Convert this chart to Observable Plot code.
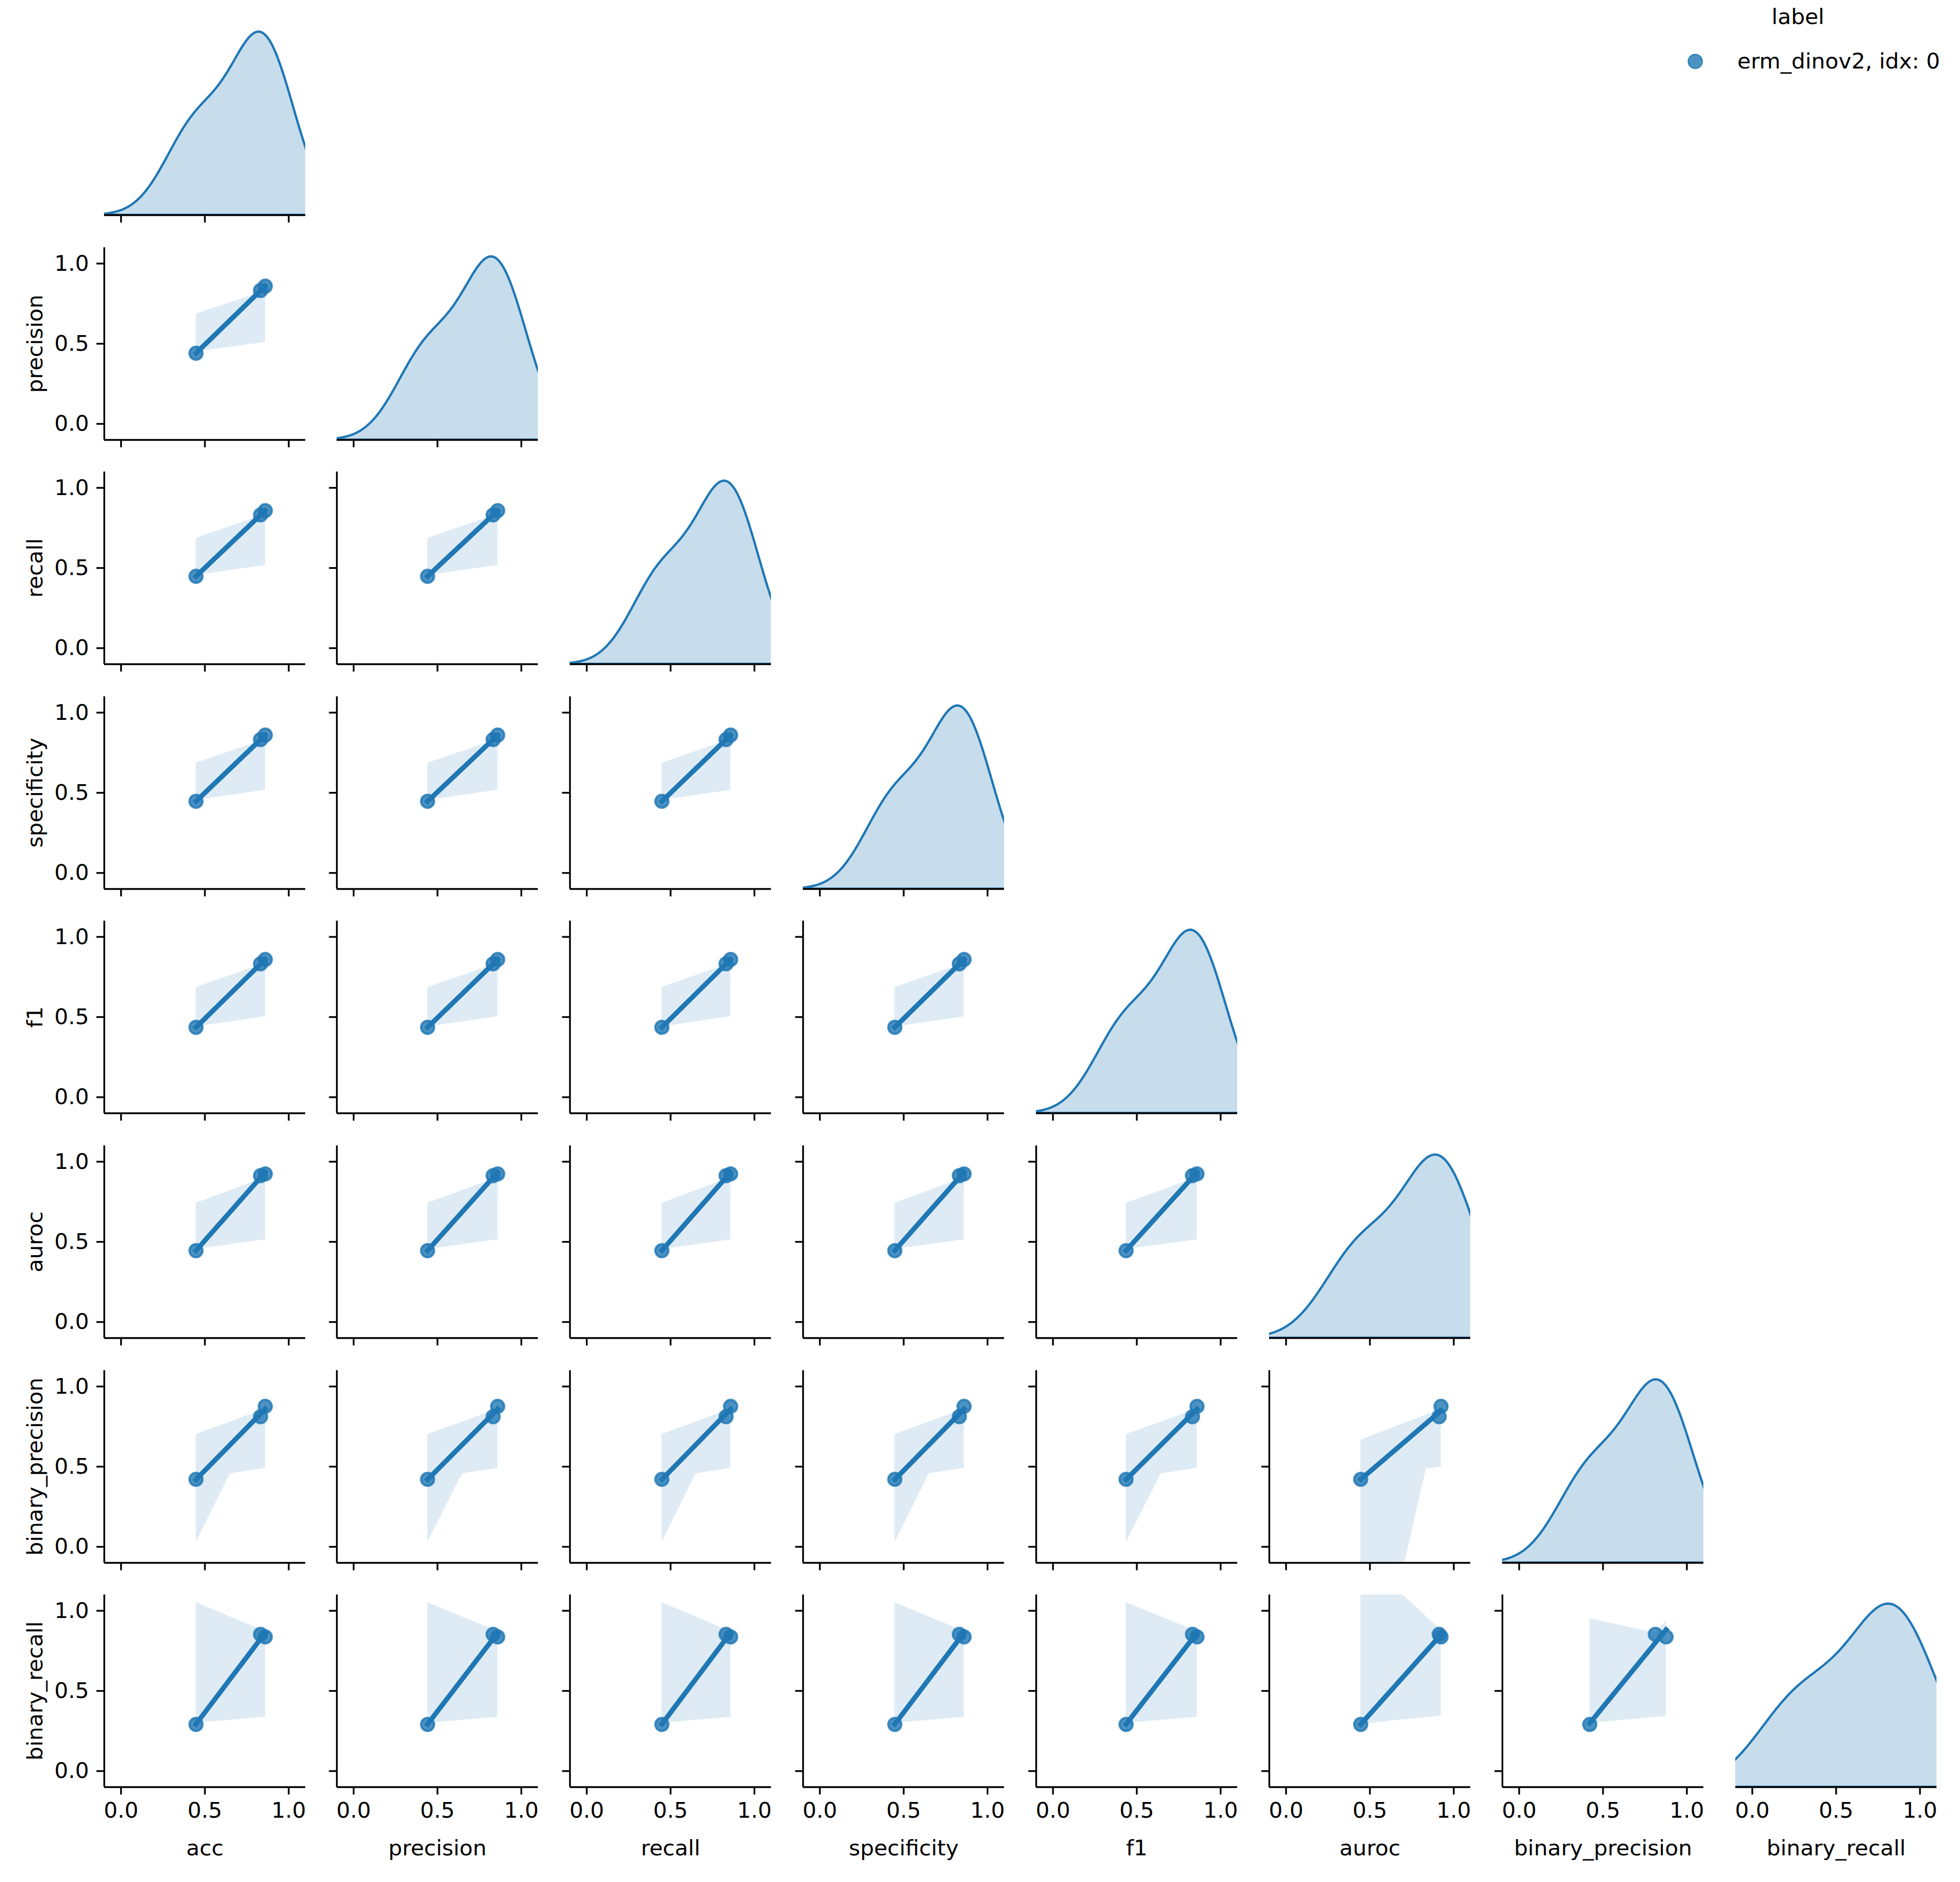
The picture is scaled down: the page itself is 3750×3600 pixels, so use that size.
<!DOCTYPE html>
<html>
<head>
<meta charset="utf-8">
<script src="https://cdn.jsdelivr.net/npm/d3@7"></script>
<script src="https://cdn.jsdelivr.net/npm/@observablehq/plot@0.6"></script>
<style>
  html, body { margin: 0; padding: 0; background: #fff; }
  #root { position: relative; width: 3750px; height: 3600px; background: #fff; font-family: "DejaVu Sans", sans-serif; color: #000; }
  .panel { position: absolute; }
  .panel svg { overflow: visible; }
  .legend-title, .legend-text { position: absolute; font-size: 41.7px; line-height: 1; white-space: nowrap; }
  .legend-marker { position: absolute; width: 25px; height: 25px; border-radius: 50%; box-sizing: content-box; }
</style>
</head>
<body>
<div id="root"></div>
<script>
// ---------------- data ----------------
const variables = ["acc", "precision", "recall", "specificity", "f1", "auroc", "binary_precision", "binary_recall"];
const acc              = [0.447, 0.832, 0.860];
const precision        = [0.441, 0.832, 0.859];
const recall           = [0.448, 0.831, 0.858];
const specificity      = [0.447, 0.832, 0.860];
const f1               = [0.436, 0.832, 0.859];
const auroc            = [0.445, 0.913, 0.924];
const binary_precision = [0.421, 0.812, 0.876];
const binary_recall    = [0.291, 0.853, 0.837];
const tickValues = [0, 0.5, 1.0];
const legendTitle = "label";
const legendLabels = ["erm_dinov2, idx: 0"];

// bootstrap CI band outlines [x, lower, upper]; x in acc units (re-mapped onto each column's range)
const bandPrecision        = [[0.447, 0.450, 0.686], [0.860, 0.509, 0.829]];
const bandRecall           = [[0.447, 0.454, 0.686], [0.860, 0.517, 0.836]];
const bandSpecificity      = [[0.447, 0.454, 0.686], [0.860, 0.517, 0.834]];
const bandF1               = [[0.447, 0.440, 0.686], [0.860, 0.503, 0.836]];
const bandAuroc            = [[0.447, 0.454, 0.742], [0.860, 0.514, 0.902]];
const bandBinaryPrecision  = [[0.447, 0.029, 0.702], [0.651, 0.457, 0.780], [0.860, 0.490, 0.860]];
const bandBinaryRecall     = [[0.447, 0.300, 1.052], [0.860, 0.337, 0.872]];
// special panels, x in the column variable's own units
const bandAurocBinaryPrecision        = [[0.445, -1.30, 0.667], [0.835, 0.487, 0.823], [0.924, 0.498, 0.862]];
const bandAurocBinaryRecall           = [[0.445, 0.294, 1.340], [0.924, 0.344, 0.880]];
const bandBinaryPrecisionBinaryRecall = [[0.421, 0.300, 0.952], [0.813, 0.336, 0.862], [0.876, 0.341, 0.939]];

// ---------------- helpers ----------------
const columns = [acc, precision, recall, specificity, f1, auroc, binary_precision, binary_recall];
const rowBands = [null, bandPrecision, bandRecall, bandSpecificity, bandF1, bandAuroc, bandBinaryPrecision, bandBinaryRecall];
const COLOR = "#1f77b4";
const FS = 41.7;
const TICK = 14.6, PAD = 14.6, SPINE = 3.33;
const W = 385, H = 368;
const LEFT0 = 198.5, PITCHX = 445.9, TOP0 = 43, PITCHY = 429.6;
const DOMAIN = [-0.1, 1.1];
const fmt = d3.format(".1f");
const blank = () => "";

function bandFor(r, c) {
  const rn = variables[r], cn = variables[c];
  let b;
  if (cn === "auroc" && rn === "binary_precision") b = bandAurocBinaryPrecision;
  else if (cn === "auroc" && rn === "binary_recall") b = bandAurocBinaryRecall;
  else if (cn === "binary_precision" && rn === "binary_recall") b = bandBinaryPrecisionBinaryRecall;
  else {
    const a0 = d3.min(acc), a1 = d3.max(acc);
    const m0 = d3.min(columns[c]), m1 = d3.max(columns[c]);
    b = rowBands[r].map(([x, lo, hi]) => [m0 + (x - a0) / (a1 - a0) * (m1 - m0), lo, hi]);
  }
  return b.map(([x, lo, hi]) => ({x, lo, hi}));
}

function kde(values) {
  const n = values.length;
  const bw = d3.deviation(values) * Math.pow(n, -1 / 5);
  const lo = d3.min(values) - 3 * bw, hi = d3.max(values) + 3 * bw;
  const g = d3.range(200).map(i => lo + (hi - lo) * i / 199);
  const k = u => Math.exp(-0.5 * u * u) / Math.sqrt(2 * Math.PI);
  return g.map(x => ({x, density: d3.mean(values, v => k((x - v) / bw)) / bw}));
}

const baseStyle = {overflow: "visible", background: "transparent", fontFamily: "DejaVu Sans", fontSize: FS + "px", color: "black"};

function xAxis(bottom) {
  return Plot.axisX({ticks: tickValues, tickSize: TICK, tickPadding: PAD, tickFormat: bottom ? fmt : blank,
    label: null, strokeWidth: SPINE, fontSize: FS, anchor: "bottom"});
}
function yAxis(first) {
  return Plot.axisY({ticks: tickValues, tickSize: TICK, tickPadding: PAD, tickFormat: first ? fmt : blank,
    label: null, strokeWidth: SPINE, fontSize: FS, anchor: "left"});
}

function panel(r, c) {
  const bottom = r === variables.length - 1;
  const first = c === 0;
  const marks = [];
  let yScale;
  if (r === c) {
    const dens = kde(columns[c]);
    const ymax = d3.max(dens, d => d.density) * 1.05;
    yScale = {domain: [0, ymax], axis: null};
    marks.push(Plot.areaY(dens, {x: "x", y: "density", fill: COLOR, fillOpacity: 0.25, stroke: COLOR, strokeWidth: 4.4, clip: true}));
    marks.push(Plot.ruleY([0], {stroke: "black", strokeWidth: SPINE}));
    marks.push(xAxis(bottom));
  } else {
    yScale = {domain: DOMAIN};
    const pts = columns[c].map((v, i) => ({x: v, y: columns[r][i]}));
    marks.push(Plot.dot(pts, {x: "x", y: "y", r: 12.5, fill: COLOR, fillOpacity: 0.8, stroke: COLOR, strokeOpacity: 0.8, strokeWidth: 4.17}));
    marks.push(Plot.areaY(bandFor(r, c), {x: "x", y1: "lo", y2: "hi", fill: COLOR, fillOpacity: 0.15, clip: true}));
    marks.push(Plot.linearRegressionY(pts, {x: "x", y: "y", ci: 0, stroke: COLOR, strokeWidth: 9.4, strokeLinecap: "square"}));
    marks.push(Plot.ruleX([DOMAIN[0]], {stroke: "black", strokeWidth: SPINE}));
    marks.push(Plot.ruleY([DOMAIN[0]], {stroke: "black", strokeWidth: SPINE}));
    marks.push(xAxis(bottom));
    marks.push(yAxis(first));
  }
  if (bottom) {
    marks.push(Plot.text([variables[c]], {frameAnchor: "bottom", dy: 117, fontSize: FS, lineAnchor: "middle", textAnchor: "middle", text: d => d}));
  }
  if (first && r > 0) {
    marks.push(Plot.text([variables[r]], {frameAnchor: "left", rotate: -90, dx: -132, fontSize: FS, lineAnchor: "middle", textAnchor: "middle", text: d => d}));
  }
  const svg = Plot.plot({
    width: W, height: H,
    marginTop: 0, marginRight: 0, marginBottom: 0, marginLeft: 0,
    x: {domain: DOMAIN},
    y: yScale,
    style: baseStyle,
    marks
  });
  const div = document.createElement("div");
  div.className = "panel";
  div.style.left = (LEFT0 + c * PITCHX) + "px";
  div.style.top = (TOP0 + r * PITCHY) + "px";
  div.style.width = W + "px";
  div.style.height = H + "px";
  div.appendChild(svg);
  return div;
}

const root = document.getElementById("root");
for (let r = 0; r < variables.length; ++r) {
  for (let c = 0; c <= r; ++c) root.appendChild(panel(r, c));
}

// legend
const title = document.createElement("div");
title.className = "legend-title";
title.textContent = legendTitle;
title.style.left = "3440px"; title.style.top = "32px"; title.style.transform = "translate(-50%, -50%)";
root.appendChild(title);
legendLabels.forEach((lab, i) => {
  const cy = 117 + i * 70;
  const m = document.createElement("div");
  m.className = "legend-marker";
  m.style.left = (3243 - 12.5 - 2) + "px"; m.style.top = (cy - 12.5 - 2) + "px";
  m.style.background = "rgba(31,119,180,0.8)";
  m.style.border = "2px solid rgba(31,119,180,0.8)";
  root.appendChild(m);
  const t = document.createElement("div");
  t.className = "legend-text";
  t.textContent = lab;
  t.style.left = "3324px"; t.style.top = cy + "px"; t.style.transform = "translateY(-50%)";
  root.appendChild(t);
});
</script>
</body>
</html>
